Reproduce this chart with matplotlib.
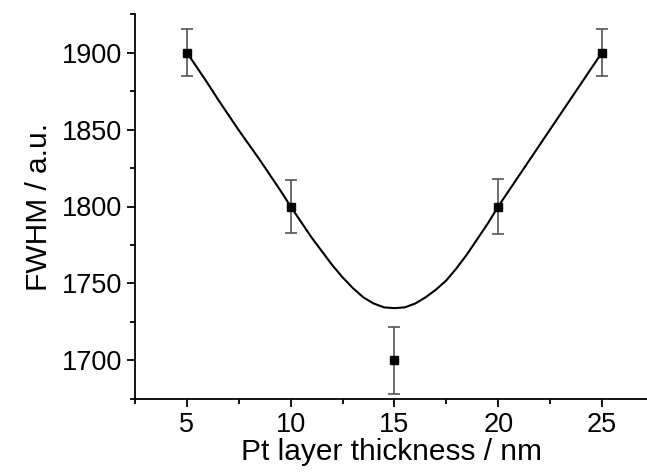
import numpy as np
import matplotlib
matplotlib.use('Agg')
import matplotlib.pyplot as plt
from matplotlib.ticker import MultipleLocator

plt.rcParams['font.family'] = ['Liberation Sans', 'DejaVu Sans']

# measured points
thickness = [5, 10, 15, 20, 25]
fwhm = [1900, 1800, 1700, 1800, 1900]
fwhm_err = [15, 17, 22, 18, 15]

# fitted curve
fit_x = [5, 5.5, 6, 6.5, 7, 7.5, 8, 8.5, 9, 9.5, 10, 10.5, 11, 11.5, 12, 12.5,
         13, 13.5, 14, 14.5, 15, 15.5, 16, 16.5, 17, 17.5, 18, 18.5, 19, 19.5,
         20, 20.5, 21, 21.5, 22, 22.5, 23, 23.5, 24, 24.5, 25]
fit_y = [1900, 1890, 1880, 1869.5, 1859.5, 1849.5, 1840, 1830.5, 1820.5, 1810.5, 1800,
         1790, 1780, 1771, 1762, 1754, 1747, 1741, 1737, 1734.5, 1734, 1734.5,
         1737, 1741, 1746, 1752, 1760, 1769, 1779, 1789, 1800, 1810, 1820,
         1830, 1840, 1850, 1860, 1870, 1880, 1890, 1900]

fig = plt.figure(figsize=(6.47, 4.72), dpi=100)
ax = fig.add_axes([0.2087, 0.1547, 0.7913, 0.8156])

ax.plot(fit_x, fit_y, color='black', lw=1.5)
ax.errorbar(thickness, fwhm, yerr=fwhm_err, fmt='none', ecolor='#555555',
            elinewidth=1.2, capsize=4, capthick=1.2)
ax.plot(thickness, fwhm, 's', color='black', ms=5.5)

ax.set_xlim(2.5, 27.17)
ax.set_ylim(1675, 1925)
ax.xaxis.set_major_locator(MultipleLocator(5))
ax.xaxis.set_minor_locator(MultipleLocator(2.5))
ax.yaxis.set_major_locator(MultipleLocator(50))
ax.yaxis.set_minor_locator(MultipleLocator(25))

for s in ['top', 'right']:
    ax.spines[s].set_visible(False)
for s in ['left', 'bottom']:
    ax.spines[s].set_linewidth(1.3)

ax.tick_params(which='major', length=5.5, width=1.3, labelsize=19.5, pad=4)
ax.tick_params(which='minor', length=3.5, width=1.3)

ax.set_xlabel('Pt layer thickness / nm', fontsize=21.5, labelpad=0)
ax.set_ylabel('FWHM / a.u.', fontsize=21.5, labelpad=6)

fig.savefig('out.png', dpi=100)
